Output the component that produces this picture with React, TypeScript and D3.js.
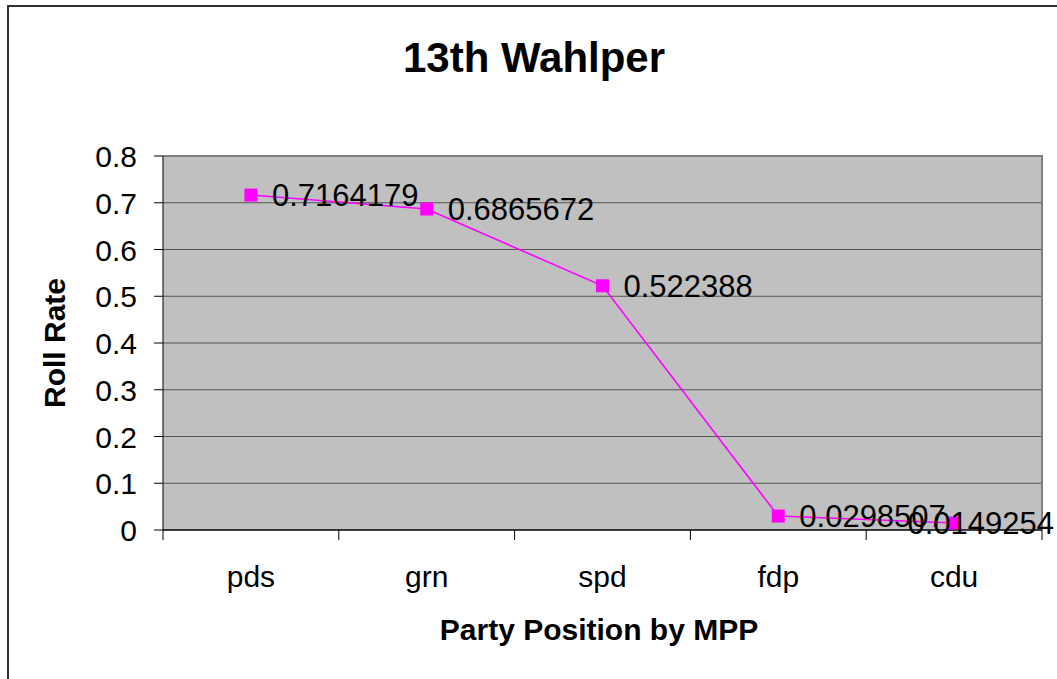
import { useEffect, useRef } from "react";
import * as d3 from "d3";

const categories = ["pds", "grn", "spd", "fdp", "cdu"];
const rollRate = [0.7164179, 0.6865672, 0.522388, 0.0298507, 0.0149254];
const valueLabels = ["0.7164179", "0.6865672", "0.522388", "0.0298507", "0.0149254"];
const yTicks = [0, 0.1, 0.2, 0.3, 0.4, 0.5, 0.6, 0.7, 0.8];

const WIDTH = 1057;
const HEIGHT = 679;

const App = () => {
    const svgRef: any = useRef<SVGSVGElement>(null);

    useEffect(() => {
        const svg = d3.select(svgRef.current);
        svg.selectAll("*").remove();

        const left = 163, right = 1042, top = 156, bottom = 530;
        const font = "'Liberation Sans', Arial, sans-serif";

        // outer frame
        svg.append("rect")
            .attr("x", 8).attr("y", 6)
            .attr("width", 1070).attr("height", 700)
            .attr("fill", "white")
            .attr("stroke", "#333").attr("stroke-width", 2);

        const x = d3.scaleBand().domain(categories).range([left, right]);
        const y = d3.scaleLinear().domain([0, 0.8]).range([bottom, top]);
        const cx = (i: number) => (x(categories[i]) as number) + x.bandwidth() / 2;

        // plot background
        svg.append("rect")
            .attr("x", left).attr("y", top)
            .attr("width", right - left).attr("height", bottom - top)
            .attr("fill", "#c0c0c0");

        // gridlines
        svg.append("g")
            .selectAll("line")
            .data(yTicks.slice(1))
            .join("line")
            .attr("x1", left).attr("x2", right)
            .attr("y1", d => y(d)).attr("y2", d => y(d))
            .attr("stroke", "#555").attr("stroke-width", 1.2);

        // plot border top/right
        svg.append("path")
            .attr("d", `M${left},${top}H${right}V${bottom}`)
            .attr("fill", "none")
            .attr("stroke", "#808080").attr("stroke-width", 2);

        // y axis
        const yAxis = svg.append("g");
        yAxis.append("line")
            .attr("x1", left).attr("x2", left)
            .attr("y1", top).attr("y2", bottom)
            .attr("stroke", "#000");
        yAxis.selectAll("line.tick")
            .data(yTicks)
            .join("line")
            .attr("class", "tick")
            .attr("x1", left - 9).attr("x2", left)
            .attr("y1", d => y(d)).attr("y2", d => y(d))
            .attr("stroke", "#000");
        yAxis.selectAll("text")
            .data(yTicks)
            .join("text")
            .attr("x", 137)
            .attr("y", d => y(d) + 11)
            .attr("text-anchor", "end")
            .attr("font-family", font)
            .attr("font-size", 30)
            .text(d => d3.format("")(+d.toFixed(1)));

        // x axis
        const xAxis = svg.append("g");
        xAxis.append("line")
            .attr("x1", left).attr("x2", right)
            .attr("y1", bottom).attr("y2", bottom)
            .attr("stroke", "#000").attr("stroke-width", 1.5);
        const bounds = categories.map(c => x(c) as number).concat([right]);
        xAxis.selectAll("line.tick")
            .data(bounds)
            .join("line")
            .attr("class", "tick")
            .attr("x1", d => d).attr("x2", d => d)
            .attr("y1", bottom).attr("y2", bottom + 10)
            .attr("stroke", "#000");
        xAxis.selectAll("text")
            .data(categories)
            .join("text")
            .attr("x", (_, i) => cx(i))
            .attr("y", 587)
            .attr("text-anchor", "middle")
            .attr("font-family", font)
            .attr("font-size", 30)
            .text(d => d);

        // series
        const line = d3.line<number>()
            .x((_, i) => cx(i))
            .y(d => y(d));
        svg.append("path")
            .datum(rollRate)
            .attr("d", line)
            .attr("fill", "none")
            .attr("stroke", "#ff00ff").attr("stroke-width", 1.6);

        const ms = 13;
        svg.selectAll("rect.marker")
            .data(rollRate)
            .join("rect")
            .attr("class", "marker")
            .attr("x", (_, i) => cx(i) - ms / 2)
            .attr("y", d => y(d) - ms / 2)
            .attr("width", ms).attr("height", ms)
            .attr("fill", "#ff00ff");

        // value labels; the last one is pushed left so it stays inside the frame
        const last = rollRate.length - 1;
        svg.selectAll("text.value")
            .data(rollRate)
            .join("text")
            .attr("class", "value")
            .attr("x", (_, i) => (i === last ? WIDTH - 3 : cx(i) + 21))
            .attr("y", d => y(d) + 11)
            .attr("text-anchor", (_, i) => (i === last ? "end" : "start"))
            .attr("font-family", font)
            .attr("font-size", 31)
            .text((_, i) => valueLabels[i]);

        // titles
        svg.append("text")
            .attr("x", 534).attr("y", 72)
            .attr("text-anchor", "middle")
            .attr("font-family", font)
            .attr("font-size", 42).attr("font-weight", "bold")
            .text("13th Wahlper");

        svg.append("text")
            .attr("x", 599).attr("y", 640)
            .attr("text-anchor", "middle")
            .attr("font-family", font)
            .attr("font-size", 30).attr("font-weight", "bold")
            .text("Party Position by MPP");

        svg.append("text")
            .attr("transform", "translate(65,343) rotate(-90)")
            .attr("text-anchor", "middle")
            .attr("font-family", font)
            .attr("font-size", 30).attr("font-weight", "bold")
            .text("Roll Rate");
    }, []);

    return (
        <svg
            ref={svgRef}
            width={WIDTH}
            height={HEIGHT}
            style={{ position: "absolute", left: 0, top: 0, display: "block" }}
        />
    );
};

export default App;
